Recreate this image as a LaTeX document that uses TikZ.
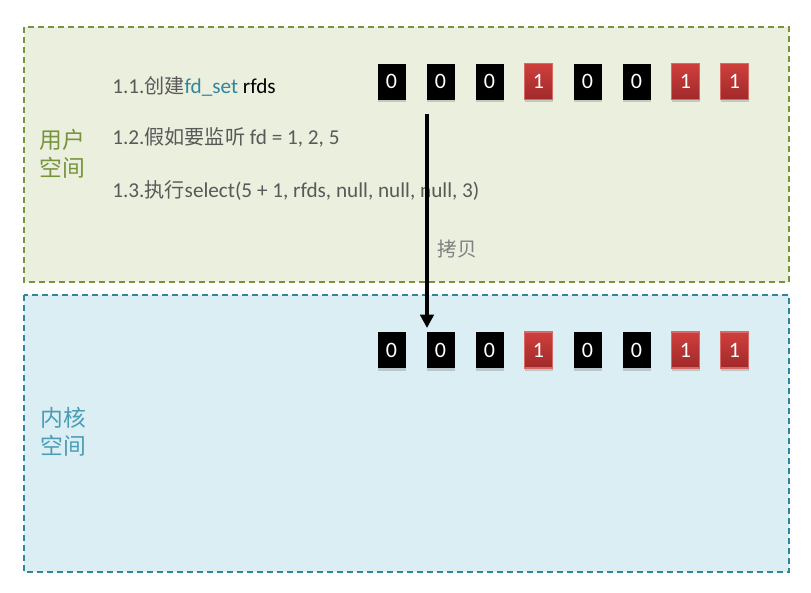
\documentclass[tikz,border=0pt]{standalone}
\usepackage{fontspec}
\setmainfont{Carlito}
\newfontfamily\cjk[Scale=0.95]{Noto Sans CJK SC}
\usetikzlibrary{positioning,shadows,arrows.meta}

\definecolor{olivebd}{HTML}{77933C}
\definecolor{olivebg}{HTML}{EBEFDE}
\definecolor{aquabd}{HTML}{31859C}
\definecolor{aquabg}{HTML}{DBEEF3}
\definecolor{aquatxt}{HTML}{4A9DB5}
\definecolor{txtgray}{HTML}{595959}
\definecolor{redtop}{HTML}{CF3F3C}
\definecolor{redbot}{HTML}{A0292A}
\definecolor{redbd}{HTML}{D86A66}

\tikzset{
  spacebox/.style={dash pattern=on 4.5pt off 3pt, line width=1.5pt},
  bit/.style={minimum width=21pt, minimum height=27pt, inner sep=0pt, outer sep=0pt, text=white,
    font=\fontsize{16.5}{16.5}\selectfont,
    drop shadow={shadow xshift=0pt, shadow yshift=-2pt, opacity=.35}},
  zero/.style={bit, fill=black},
  one/.style={bit, top color=redtop, bottom color=redbot, draw=redbd, line width=.8pt},
  stepline/.style={anchor=base west, inner xsep=0pt, text=txtgray, font=\fontsize{15.9}{18}\selectfont},
  spacelabel/.style={align=left, font=\cjk\fontsize{18}{21}\selectfont}
}

\begin{document}
\begin{tikzpicture}
[x=0.75pt, y=-0.75pt, node distance=0pt and 15.75pt]
\useasboundingbox (0,0) rectangle (811,593);

% user / kernel space
\draw[spacebox, draw=olivebd, fill=olivebg] (24,27) rectangle (789,282);
\draw[spacebox, draw=aquabd, fill=aquabg] (24,295) rectangle (789,572);

\node (userlbl)[spacelabel, text=olivebd] at (62,154) {用户\\空间};
\node (kernlbl)[spacelabel, text=aquatxt] at (63,432) {内核\\空间};

% steps
\node (step1)[stepline] at (112,93) {1.1.{\cjk 创建}\textcolor{aquabd}{fd\_set} \textcolor{black}{rfds}};
\node (step2)[stepline] at (112,144) {1.2.{\cjk 假如要监听} fd = 1, 2, 5};
\node (step3)[stepline] at (112,197) {1.3.{\cjk 执行}select(5 + 1, rfds, null, null, null, 3)};

% rfds in user space
\node (u1)[zero] at (391.5,81.5) {0};
\node (u2)[zero, right=of u1] {0};
\node (u3)[zero, right=of u2] {0};
\node (u4)[one, right=of u3] {1};
\node (u5)[zero, right=of u4] {0};
\node (u6)[zero, right=of u5] {0};
\node (u7)[one, right=of u6] {1};
\node (u8)[one, right=of u7] {1};

% rfds in kernel space
\node (k1)[zero] at (391.5,350) {0};
\node (k2)[zero, right=of k1] {0};
\node (k3)[zero, right=of k2] {0};
\node (k4)[one, right=of k3] {1};
\node (k5)[zero, right=of k4] {0};
\node (k6)[zero, right=of k5] {0};
\node (k7)[one, right=of k6] {1};
\node (k8)[one, right=of k7] {1};

% copy
\coordinate (copytop) at (427,114);
\draw[-{Triangle[length=10pt,width=10pt]}, line width=2.7pt, shorten >=3pt] (copytop) -- (copytop |- k2.north);
\node (copylbl)[text=gray, font=\cjk\fontsize{15.5}{15.5}\selectfont] at (457,249) {拷贝};
\end{tikzpicture}
\end{document}
